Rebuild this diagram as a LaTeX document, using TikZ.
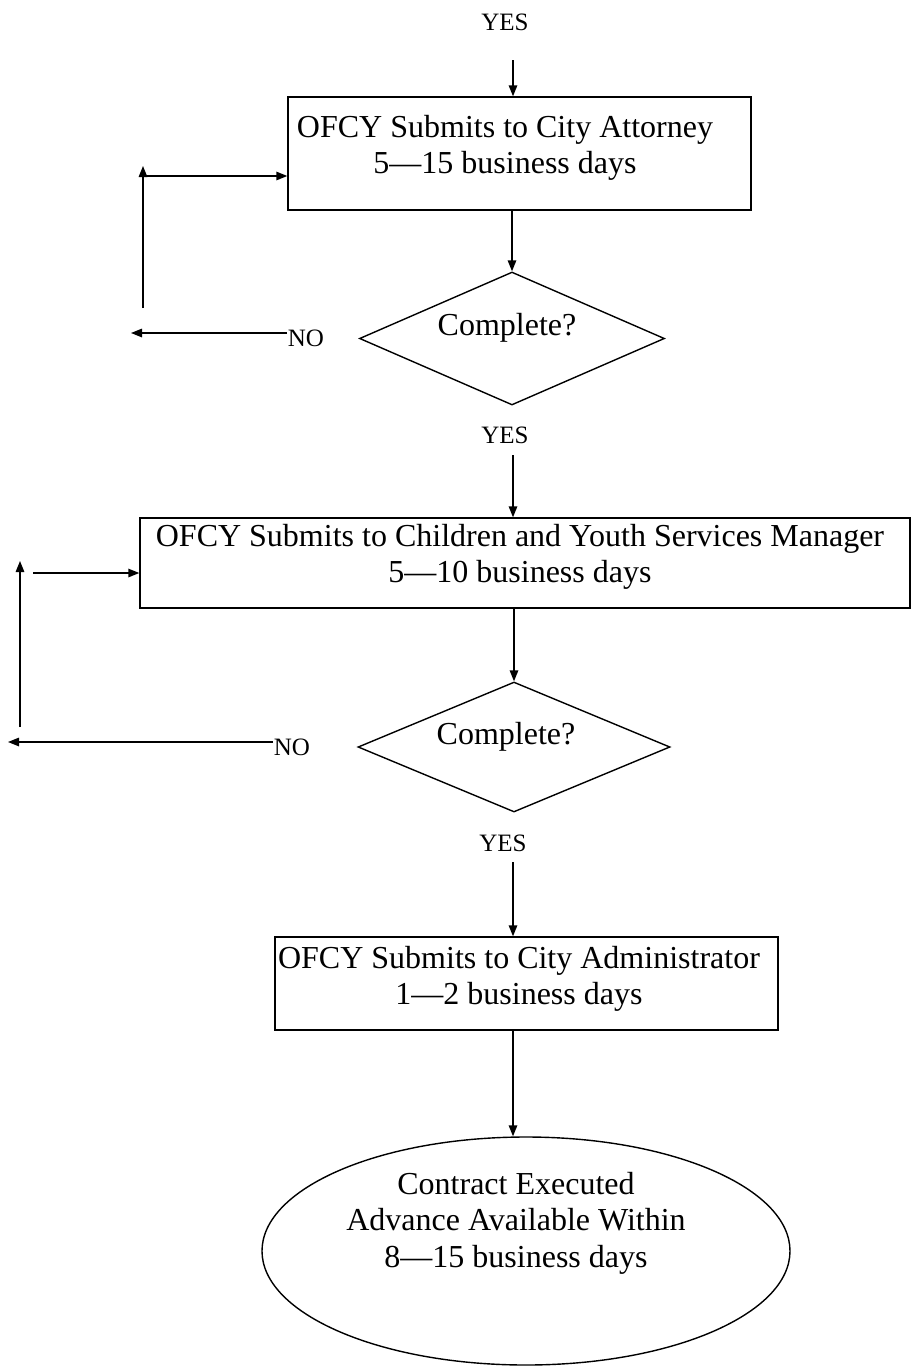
\documentclass[tikz,border=0pt]{standalone}
\usepackage{fontspec}
\setmainfont{Liberation Serif}
\usetikzlibrary{shapes.geometric,arrows.meta}
\begin{document}
\begin{tikzpicture}[x=1pt,y=-1pt,
  line width=1.4pt,
  arr/.style={-{Triangle[length=11pt,width=8.5pt]}},
  boxtext/.style={font=\fontsize{32}{36.5}\selectfont, align=center, inner sep=0},
  lbl/.style={font=\fontsize{25}{28}\selectfont, inner sep=0},
  procbox/.style={draw, rectangle, inner sep=0},
  decision/.style={draw, diamond, inner sep=0},
  terminal/.style={draw, ellipse, inner sep=0}]
\fill[white] (0,0) rectangle (912,1368);
\useasboundingbox (0,0) rectangle (912,1368);

% ---- first block
\node[lbl] (yes1) at (505,22) {YES};
\node[procbox, minimum width=463pt, minimum height=113pt] (box1) at (519.5,153.5) {};
\node[boxtext] (t1) at (505,148) {OFCY Submits to City Attorney\\5—15 business days};
\node[decision, minimum width=305pt, minimum height=133pt] (d1) at (512,338.5) {};
\node[boxtext] (c1) at (507,328) {Complete?};
\node[lbl] (no1) at (306,338) {NO};

\coordinate (a1) at (513,60);
\draw[arr] (a1) -- (a1 |- box1.north);
\draw[arr] (d1.north |- box1.south) -- (d1.north);
\coordinate (n1e) at (131,333);
\draw[arr] (no1.west |- n1e) -- (n1e);
\coordinate (v1b) at (143,308);
\coordinate (v1t) at (143,166);
\draw[arr] (v1b) -- (v1t);
\coordinate (h1s) at (143,176);
\draw[arr] (h1s) -- (h1s -| box1.west);

% ---- second block
\node[lbl] (yes2) at (505,435) {YES};
\node[procbox, minimum width=770pt, minimum height=90pt] (box2) at (525,563) {};
\node[boxtext] (t2) at (520,557) {OFCY Submits to Children and Youth Services Manager\\5—10 business days};
\node[decision, minimum width=312pt, minimum height=130pt] (d2) at (514,747) {};
\node[boxtext] (c2) at (506,737) {Complete?};
\node[lbl] (no2) at (292,747) {NO};

\coordinate (a2) at (513,455);
\draw[arr] (a2) -- (a2 |- box2.north);
\draw[arr] (d2.north |- box2.south) -- (d2.north);
\coordinate (n2e) at (8,742);
\draw[arr] (no2.west |- n2e) -- (n2e);
\coordinate (v2b) at (20,727);
\coordinate (v2t) at (20,561);
\draw[arr] (v2b) -- (v2t);
\coordinate (h2s) at (33,573);
\draw[arr] (h2s) -- (h2s -| box2.west);

% ---- third block
\node[lbl] (yes3) at (503,843) {YES};
\node[procbox, minimum width=503pt, minimum height=93pt] (box3) at (526.5,983.5) {};
\node[boxtext] (t3) at (519,979) {OFCY Submits to City Administrator\\1—2 business days};
\node[terminal, minimum width=528pt, minimum height=228pt] (e1) at (526,1251) {};
\node[boxtext] (t4) at (516,1223) {Contract Executed\\Advance Available Within\\8—15 business days};

\coordinate (a3) at (513,862);
\draw[arr] (a3) -- (a3 |- box3.north);
\coordinate (a4) at (513,1030);
\draw[arr] (a4 |- box3.south) -- (a4 |- e1.north);
\end{tikzpicture}
\end{document}
